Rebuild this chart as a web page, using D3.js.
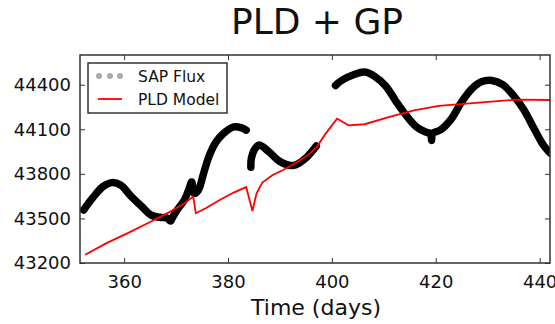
<!DOCTYPE html>
<html>
<head>
<meta charset="utf-8">
<script src="https://cdn.jsdelivr.net/npm/d3@7"></script>
<style>
  body { margin: 0; background: white; }
  text { font-family: "DejaVu Sans", sans-serif; }
</style>
</head>
<body>
<svg id="chart"></svg>
<script>
// SAP flux, three observing segments (days, flux)
const sap1Days = [352.2, 353.9, 355.9, 357.6, 359.3, 361.4, 363.4, 365.1, 366.8, 368.3, 368.9, 369.3, 370.2, 371.6, 372.5, 373.0, 373.5, 374.3, 375.3, 376.3, 377.7, 379.1, 381.1, 382.5, 383.5];
const sap1Flux = [43557, 43636, 43714, 43741, 43725, 43647, 43580, 43524, 43508, 43502, 43482, 43505, 43557, 43624, 43700, 43745, 43669, 43691, 43803, 43915, 44015, 44071, 44116, 44111, 44094];
const sap2Days = [384.4, 384.5, 385.2, 386.0, 387.9, 389.9, 391.7, 393.0, 395.1, 397.0];
const sap2Flux = [43845, 43905, 43970, 43994, 43948, 43885, 43858, 43860, 43910, 43987];
const sap3Days = [400.7, 401.9, 404.3, 406.3, 408.3, 410.4, 412.4, 414.5, 416.5, 418.2, 419.0, 419.2, 419.4, 420.9, 422.9, 425.0, 427.0, 428.8, 430.8, 432.9, 434.9, 436.9, 439.0, 440.7, 442.0];
const sap3Flux = [44395, 44429, 44469, 44485, 44455, 44390, 44285, 44185, 44110, 44080, 44072, 44025, 44072, 44095, 44165, 44285, 44375, 44420, 44429, 44400, 44330, 44235, 44100, 43995, 43940];

// PLD model
const pldDays = [352.5, 356.6, 360.7, 364.8, 368.9, 371.6, 373.3, 373.8, 375.7, 378.4, 381.1, 383.5, 384.7, 385.5, 386.6, 388.6, 390.6, 393.4, 395.4, 397.1, 398.8, 401.0, 403.2, 406.3, 411.1, 415.8, 420.6, 424.7, 430.1, 435.6, 442.0];
const pldFlux = [43256, 43334, 43401, 43473, 43546, 43602, 43647, 43535, 43569, 43624, 43674, 43711, 43550, 43669, 43741, 43792, 43826, 43881, 43926, 43982, 44071, 44172, 44127, 44134, 44183, 44228, 44258, 44270, 44285, 44299, 44297];

const xTicks = [360, 380, 400, 420, 440];
const yTicks = [43200, 43500, 43800, 44100, 44400];

const W = 555, H = 324;
const margin = { top: 55, right: 5, bottom: 61, left: 80 };
const iw = W - margin.left - margin.right;
const ih = H - margin.top - margin.bottom;

const svg = d3.select("#chart").attr("width", W).attr("height", H);

const x = d3.scaleLinear().domain([351.5, 442]).range([0, iw]);
const y = d3.scaleLinear().domain([43200, 44600]).range([ih, 0]);

const g = svg.append("g").attr("transform", `translate(${margin.left},${margin.top})`);

g.append("clipPath").attr("id", "clip")
  .append("rect").attr("width", iw).attr("height", ih);

const plot = g.append("g").attr("clip-path", "url(#clip)");

const sapLine = d3.line()
  .x(d => x(d[0]))
  .y(d => y(d[1]))
  .curve(d3.curveCatmullRom);

[[sap1Days, sap1Flux], [sap2Days, sap2Flux], [sap3Days, sap3Flux]].forEach(([t, f]) => {
  plot.append("path")
    .datum(d3.zip(t, f))
    .attr("d", sapLine)
    .attr("fill", "none")
    .attr("stroke", "#000")
    .attr("stroke-width", 7.5)
    .attr("stroke-linecap", "round")
    .attr("stroke-linejoin", "round");
});

plot.append("path")
  .datum(d3.zip(pldDays, pldFlux))
  .attr("d", d3.line().x(d => x(d[0])).y(d => y(d[1])))
  .attr("fill", "none")
  .attr("stroke", "#ff0000")
  .attr("stroke-width", 1.8);

// axes with inward ticks on all four sides
const axisStyle = sel => {
  sel.select(".domain").remove();
  sel.selectAll("line").attr("stroke", "#333").attr("stroke-width", 1);
  sel.selectAll("text").attr("font-size", 18).attr("fill", "#111")
    .style("font-family", '"DejaVu Sans", sans-serif');
};

g.append("g").attr("transform", `translate(0,${ih})`)
  .call(d3.axisBottom(x).tickValues(xTicks).tickFormat(d3.format("d")).tickSizeInner(-5).tickPadding(12))
  .call(axisStyle);
g.append("g")
  .call(d3.axisTop(x).tickValues(xTicks).tickSizeInner(-5).tickFormat(""))
  .call(axisStyle);
g.append("g")
  .call(d3.axisLeft(y).tickValues(yTicks).tickFormat(d3.format("d")).tickSizeInner(-5).tickPadding(9))
  .call(axisStyle);
g.append("g").attr("transform", `translate(${iw},0)`)
  .call(d3.axisRight(y).tickValues(yTicks).tickSizeInner(-5).tickFormat(""))
  .call(axisStyle);

g.append("rect")
  .attr("width", iw).attr("height", ih)
  .attr("fill", "none").attr("stroke", "#333").attr("stroke-width", 1.5);

// legend
const lg = g.append("g").attr("transform", "translate(8,8)");
lg.append("rect").attr("width", 139).attr("height", 50)
  .attr("fill", "white").attr("stroke", "#333").attr("stroke-width", 1.5);
[11, 22, 32].forEach(cx => {
  lg.append("circle").attr("cx", cx).attr("cy", 13).attr("r", 3).attr("fill", "#aaa");
});
lg.append("line").attr("x1", 10).attr("x2", 34).attr("y1", 36).attr("y2", 36)
  .attr("stroke", "#ff0000").attr("stroke-width", 1.8);
lg.append("text").attr("x", 50).attr("y", 18.5).attr("font-size", 15.5).attr("fill", "#111").text("SAP Flux");
lg.append("text").attr("x", 50).attr("y", 41.5).attr("font-size", 15.5).attr("fill", "#111").text("PLD Model");

// title and axis label
svg.append("text").attr("x", 317).attr("y", 34).attr("text-anchor", "middle")
  .attr("font-size", 36).attr("fill", "#111").text("PLD + GP");
svg.append("text").attr("x", 316).attr("y", 315).attr("text-anchor", "middle")
  .attr("font-size", 22).attr("fill", "#111").text("Time (days)");
</script>
</body>
</html>
